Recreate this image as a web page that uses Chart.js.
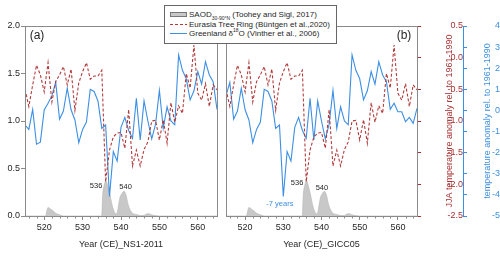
<!DOCTYPE html>
<html lang="en">
<head>
<meta charset="UTF-8">
<title>SAOD, Eurasia tree ring and Greenland d18O, 515-565 CE</title>
<script src="https://cdn.jsdelivr.net/npm/chart.js"></script>
<style>
  html, body { margin: 0; padding: 0; background: #fff; }
  body { width: 500px; height: 257px; position: relative; overflow: hidden;
         font-family: 'Liberation Sans', Arial, sans-serif; }
  .panel { position: absolute; top: 0; height: 257px; }
  #wrapA { left: 0; width: 221px; }
  #wrapB { left: 218px; width: 282px; }
  .legend { position: absolute; left: 164px; top: 5px; width: 173px; height: 39px;
            box-sizing: border-box; background: #fff; border: 1px solid #666;
            padding-top: 4px; font-size: 8px; color: #262626; z-index: 5; }
  .legend div { height: 9.5px; line-height: 9.5px; white-space: nowrap; }
  .legend sub, .legend sup { font-size: 5px; line-height: 0; }
  .sw { display: inline-block; width: 17px; margin: 0 2px 0 5px; vertical-align: middle; }
  .sw-area { height: 5px; background: #c8c8c8; border: 1px solid #777; box-sizing: border-box; }
  .sw-red { height: 1px; background: repeating-linear-gradient(90deg, #b23c3c 0 3px, transparent 3px 5px); }
  .sw-blue { height: 1px; background: #3d8fe3; }
</style>
</head>
<body>
<div class="panel" id="wrapA"><canvas id="chartA"></canvas></div>
<div class="panel" id="wrapB"><canvas id="chartB"></canvas></div>
<div class="legend">
  <div><span class="sw sw-area"></span>SAOD<sub>30-90°N</sub> (Toohey and Sigl, 2017)</div>
  <div><span class="sw sw-red"></span>Eurasia Tree Ring (Büntgen et al.,2020)</div>
  <div><span class="sw sw-blue"></span>Greenland δ<sup>18</sup>O (Vinther et al., 2006)</div>
</div>

<script>
// ---- data ----
const xMin = 515;
const xMax = 565;
const xTicks = [520, 530, 540, 550, 560];
const saodTicks = [0, 0.5, 1, 1.5, 2];
const jjaTicks = [-2.5, -2, -1.5, -1, -0.5, 0, 0.5];
const d18oTicks = [-5, -4, -3, -2, -1, 0, 1, 2, 3, 4];

// Eurasia tree ring JJA anomaly, one value per year from 515 CE
const treeRingStart = 515;
const treeRingJJA = [-0.5, -0.77, -0.43, -0.12, -0.27, -0.54, -0.08, -0.7, -0.38, -0.27,
  -0.14, -0.43, -0.18, -0.83, -0.4, -0.22, -0.08, -0.34, -0.29, -0.29,
  -0.2, -1.96, -1.46, -1.25, -1.19, -1.18, -1.43, -0.82, -1.71, -1.46,
  -1.71, -1.45, -1.33, -1.0, -0.99, -1.3, -0.98, -1.35, -0.71, -1.02,
  -0.76, -0.88, -0.25, -0.48, 0.2, -0.56, -0.67, -0.41, -0.77, -0.43, -0.51];

// Greenland d18O anomaly on the NS1-2011 years, from 515 CE
const d18oStart = 515;
const d18oAnomaly = [-0.69, -0.9, 0.05, -1.6, -1.5, 0.02, 0.34, 0.7, 1.33, -0.42,
  -0.03, 1.05, 0.03, -0.45, -1.53, -0.9, -0.55, 1.0, 0.9, 0.45,
  -0.85, -0.69, -4.08, -1.95, -2.4, -0.8, -0.33, -0.95, -1.32, 0.57,
  -1.4, 0.45, -0.5, -1.35, -0.65, 0.95, -0.85, 0.17, -0.5, -0.68,
  2.63, 1.9, 1.5, 0.5, 0.93, 1.84, 1.25, 2.31, 1.68, 1.36,
  0.05, 0.34, -0.06, -0.06, -0.53, -0.33, -0.61, 0.1];
// GICC05 dates sit 7 years earlier than NS1-2011
const gicc05Shift = 7;

// stratospheric aerosol optical depth 30-90N
const saodYears = [515, 520.3, 521, 521.6, 522.3, 523, 524, 525, 535, 535.2,
  535.6, 536.1, 536.6, 537.1, 537.6, 538.1, 538.6, 539, 539.3, 539.7,
  540.3, 540.8, 541.3, 541.8, 542.3, 543, 544, 545, 546, 546.6,
  547.2, 548, 549, 550, 565];
const saodValues = [0, 0, 0.09, 0.075, 0.055, 0.03, 0.012, 0, 0, 0.2,
  0.32, 0.37, 0.31, 0.23, 0.13, 0.06, 0.025, 0.03, 0.1, 0.19,
  0.24, 0.26, 0.22, 0.13, 0.07, 0.03, 0.015, 0.006, 0.005, 0.02,
  0.025, 0.012, 0.004, 0, 0];

// ---- styling ----
const FONT = "'Liberation Sans', Arial, sans-serif";
const AXIS_GREY = '#8a8a8a';
const TEXT = '#262626';
const RED = '#b23c3c';
const RED_TEXT = '#a83030';
const BLUE = '#3d8fe3';
const SAOD_FILL = '#c8c8c8';

const saodPts = saodYears.map((x, i) => ({ x: x, y: saodValues[i] }));
const treePts = treeRingJJA.map((v, i) => ({ x: treeRingStart + i, y: v }));
const ns1Pts = d18oAnomaly.map((v, i) => ({ x: d18oStart + i, y: v }))
  .filter(p => p.x >= xMin && p.x <= xMax);
const giccPts = d18oAnomaly.map((v, i) => ({ x: d18oStart + i - gicc05Shift, y: v }))
  .filter(p => p.x >= xMin && p.x <= xMax);

const fixTicks = list => scale => { scale.ticks = list.map(v => ({ value: v })); };

// frame, minor year ticks, panel tag, small notes and the upright side titles
const panelExtras = {
  id: 'panelExtras',
  afterDraw(chart, args, o) {
    const { ctx, chartArea: a } = chart;
    const xs = chart.scales.x, ys = chart.scales.y;
    const px = v => Math.round(v) + 0.5;
    ctx.save();
    ctx.strokeStyle = AXIS_GREY;
    ctx.lineWidth = 1;
    ctx.strokeRect(px(a.left), px(a.top), Math.round(a.right) - Math.round(a.left), Math.round(a.bottom) - Math.round(a.top));

    ctx.beginPath();
    for (let yr = xMin + 1; yr < xMax; yr += 2) {
      if (yr % 10 === 0) continue;
      const x = px(xs.getPixelForValue(yr));
      ctx.moveTo(x, px(a.bottom));
      ctx.lineTo(x, px(a.bottom) + 2);
    }
    ctx.stroke();

    ctx.textAlign = 'center';
    ctx.textBaseline = 'middle';
    ctx.fillStyle = TEXT;
    ctx.font = '12px ' + FONT;
    ctx.fillText(o.tag, o.tagLeft ? a.left + 12 : a.right - 13, a.top + 10);

    ctx.font = '7.5px ' + FONT;
    o.notes.forEach(n => {
      ctx.fillStyle = n.color || TEXT;
      ctx.fillText(n.text, xs.getPixelForValue(n.x), ys.getPixelForValue(n.y));
    });

    (o.sideTitles || []).forEach(t => {
      const s = chart.scales[t.scale];
      ctx.save();
      ctx.translate(s.left + t.offset, (a.top + a.bottom) / 2);
      ctx.rotate(-Math.PI / 2);
      ctx.font = '9px ' + FONT;
      ctx.fillStyle = t.color;
      ctx.fillText(t.text, 0, 0);
      ctx.restore();
    });
    ctx.restore();
  }
};

function seriesSets(bluePts) {
  return [
    { label: 'Eurasia Tree Ring', data: treePts, yAxisID: 'yr', borderColor: RED,
      borderWidth: 1.1, borderDash: [3, 2], pointRadius: 0, fill: false },
    { label: 'Greenland d18O', data: bluePts, yAxisID: 'yb', borderColor: BLUE,
      borderWidth: 1.1, pointRadius: 0, fill: false },
    { label: 'SAOD', data: saodPts, yAxisID: 'y', borderColor: '#b5b5b5', borderWidth: 0.6,
      backgroundColor: SAOD_FILL, pointRadius: 0, fill: 'origin', cubicInterpolationMode: 'monotone' }
  ];
}

function xScale(title) {
  return {
    type: 'linear', min: xMin, max: xMax,
    afterBuildTicks: fixTicks(xTicks),
    afterFit: s => { s.height = 41; },
    border: { display: false },
    grid: { drawOnChartArea: false, tickLength: 4, color: AXIS_GREY },
    ticks: { autoSkip: false, maxRotation: 0, padding: 2, color: TEXT, font: { family: FONT, size: 9 } },
    title: { display: true, text: title, color: TEXT, font: { family: FONT, size: 9 }, padding: { top: 0, bottom: 7 } }
  };
}

// panel (a): NS1-2011 chronology, left SAOD axis
new Chart(document.getElementById('chartA'), {
  type: 'line',
  data: { datasets: seriesSets(ns1Pts) },
  options: {
    responsive: true, maintainAspectRatio: false, animation: false,
    layout: { padding: { left: 0, top: 26, right: 4, bottom: 0 } },
    plugins: {
      legend: { display: false }, tooltip: { enabled: false },
      panelExtras: {
        tag: '(a)', tagLeft: true,
        notes: [{ text: '536', x: 533.5, y: 0.32 }, { text: '540', x: 541.2, y: 0.31 }]
      }
    },
    scales: {
      x: xScale('Year (CE)_NS1-2011'),
      y: {
        position: 'left', min: 0, max: 2,
        afterBuildTicks: fixTicks(saodTicks),
        afterFit: s => { s.width = 25; },
        border: { display: false },
        grid: { drawOnChartArea: false, tickLength: 4, color: AXIS_GREY },
        ticks: { padding: 1, color: TEXT, font: { family: FONT, size: 9 }, callback: v => v.toFixed(1) }
      },
      yr: { display: false, position: 'right', min: -2.5, max: 0.5 },
      yb: { display: false, position: 'right', min: -5, max: 4 }
    }
  },
  plugins: [panelExtras]
});

// panel (b): GICC05 chronology, two right-hand temperature axes
new Chart(document.getElementById('chartB'), {
  type: 'line',
  data: { datasets: seriesSets(giccPts) },
  options: {
    responsive: true, maintainAspectRatio: false, animation: false,
    layout: { padding: { left: 8, top: 26, right: 0, bottom: 0 } },
    plugins: {
      legend: { display: false }, tooltip: { enabled: false },
      panelExtras: {
        tag: '(b)', tagLeft: false,
        notes: [
          { text: '536', x: 533.6, y: 0.35 },
          { text: '540', x: 540.1, y: 0.295 },
          { text: '-7 years', x: 529.1, y: 0.13, color: BLUE }
        ],
        sideTitles: [
          { scale: 'yr', offset: 33, color: RED_TEXT, text: 'JJA temperature anomaly rel. to 1961-1990' },
          { scale: 'yb', offset: 25, color: BLUE, text: 'temperature anomaly rel. to 1961-1990' }
        ]
      }
    },
    scales: {
      x: xScale('Year (CE)_GICC05'),
      y: { display: false, position: 'left', min: 0, max: 2 },
      yr: {
        position: 'right', min: -2.5, max: 0.5,
        afterBuildTicks: fixTicks(jjaTicks),
        afterFit: s => { s.width = 46; },
        border: { display: false },
        grid: { drawOnChartArea: false, tickLength: 4, color: RED_TEXT },
        ticks: { crossAlign: 'far', padding: 2, color: RED_TEXT, font: { family: FONT, size: 9 }, callback: v => v.toFixed(1) }
      },
      yb: {
        position: 'right', min: -5, max: 4,
        afterBuildTicks: fixTicks(d18oTicks),
        afterFit: s => { s.width = 37; },
        border: { display: true, color: BLUE },
        grid: { drawOnChartArea: false, tickLength: 4, color: BLUE },
        ticks: { crossAlign: 'far', padding: 2, color: BLUE, font: { family: FONT, size: 9 } }
      }
    }
  },
  plugins: [panelExtras]
});
</script>
</body>
</html>
